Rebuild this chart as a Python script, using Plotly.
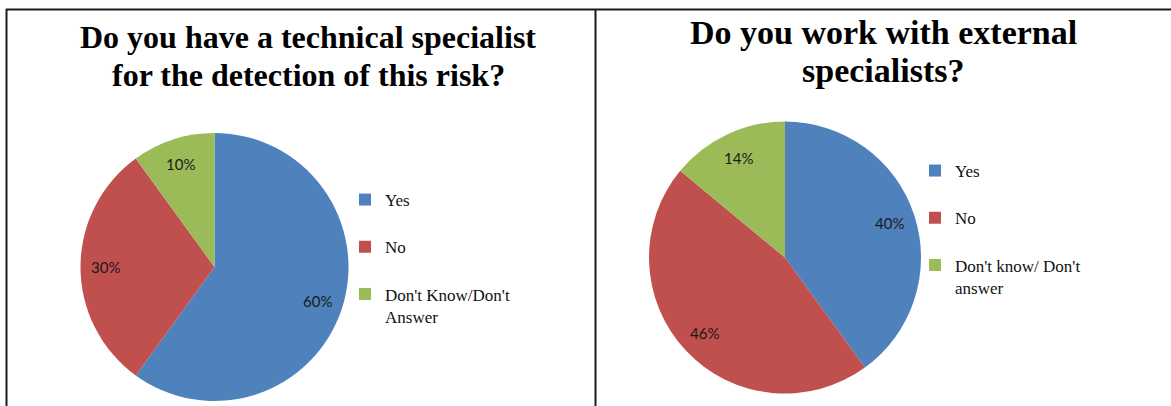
import math
import plotly.graph_objects as go

# Survey answers
labels_specialist = ["Yes", "No", "Don't Know/Don't<br>Answer"]
values_specialist = [60, 30, 10]

labels_external = ["Yes", "No", "Don't know/ Don't<br>answer"]
values_external = [40, 46, 14]

colors = ["#4F81BD", "#C0504D", "#9BBB59"]

title_left = ["Do you have a technical specialist", "for the detection of this risk?"]
title_right = ["Do you work with external", "specialists?"]

W, H = 1171, 406


def px(x):
    return x / W


def py(y):
    return 1 - y / H


# pad single-line legend entries to two lines so the entries are evenly spaced;
# the pad differs per chart so the two legends keep their own entries
def legend_labels(labels, pad):
    return [l if "<br>" in l else l + "<br>" + pad for l in labels]


# pie placement in pixels: centre and radius
pies = [
    dict(labels=legend_labels(labels_specialist, " "), values=values_specialist,
         cx=214.5, cy=267.0, r=134.0, legend="legend"),
    dict(labels=legend_labels(labels_external, "  "), values=values_external,
         cx=785.0, cy=257.5, r=136.0, legend="legend2"),
]

label_font = dict(family="Lato, Open Sans, sans-serif", size=15, color="#1a1a1a")

fig = go.Figure()
annotations = []

for p in pies:
    fig.add_trace(go.Pie(
        labels=p["labels"],
        values=p["values"],
        sort=False,
        direction="clockwise",
        rotation=0,
        marker=dict(colors=colors, line=dict(width=0)),
        textinfo="none",
        hoverinfo="label+percent",
        domain=dict(x=[px(p["cx"] - p["r"]), px(p["cx"] + p["r"])],
                    y=[py(p["cy"] + p["r"]), py(p["cy"] - p["r"])]),
        legend=p["legend"],
    ))
    # percentage labels placed at 0.81 of the radius, at each slice's mid angle
    total = sum(p["values"])
    cum = 0
    for v in p["values"]:
        frac = (cum + v / 2) / total
        theta = 2 * math.pi * frac
        lx = p["cx"] + 0.81 * p["r"] * math.sin(theta)
        ly = p["cy"] - 0.81 * p["r"] * math.cos(theta)
        annotations.append(dict(
            text=f"{round(100 * v / total)}%", x=px(lx), y=py(ly),
            xref="paper", yref="paper", xanchor="center", yanchor="middle",
            showarrow=False, font=label_font,
        ))
        cum += v

legend_style = dict(
    font=dict(family="Liberation Serif, Times New Roman, serif", size=17, color="#111"),
    bgcolor="rgba(0,0,0,0)",
    valign="top",
    xanchor="left",
    yanchor="top",
    traceorder="normal",
)

line_color = "#1a1a1a"
shapes = [
    dict(type="line", xref="paper", yref="paper", x0=px(6), x1=1, y0=py(9.5), y1=py(9.5),
         line=dict(color=line_color, width=2)),
    dict(type="line", xref="paper", yref="paper", x0=px(6.5), x1=px(6.5), y0=py(9), y1=0,
         line=dict(color=line_color, width=2)),
    dict(type="line", xref="paper", yref="paper", x0=px(595.5), x1=px(595.5), y0=py(9), y1=0,
         line=dict(color=line_color, width=2)),
]

# titles, one annotation per line: (lines, centre x, line centres y, size)
titles = [
    (title_left, 308, [37, 75], 32),
    (title_right, 883, [33, 71], 34),
]
for lines, tx, ys, size in titles:
    for line, ty in zip(lines, ys):
        annotations.append(dict(
            text="<b>" + line + "</b>", x=px(tx), y=py(ty),
            xref="paper", yref="paper", xanchor="center", yanchor="middle",
            showarrow=False, align="center",
            font=dict(family="Liberation Serif, Times New Roman, serif", size=size, color="#000"),
        ))

fig.update_layout(
    width=W,
    height=H,
    margin=dict(l=0, r=0, t=0, b=0),
    paper_bgcolor="white",
    plot_bgcolor="white",
    shapes=shapes,
    annotations=annotations,
    legend=dict(x=px(345), y=py(182), **legend_style),
    legend2=dict(x=px(915), y=py(153), **legend_style),
)

fig.write_html("out.html")
